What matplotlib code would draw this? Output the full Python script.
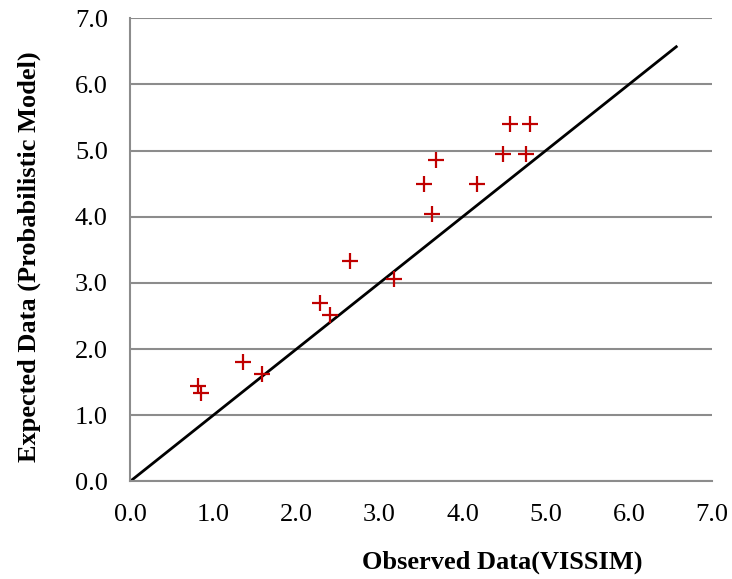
import numpy as np
import matplotlib.pyplot as plt

# observed (VISSIM) vs expected (probabilistic model)
observed = [0.82, 0.85, 1.36, 1.59, 2.29, 2.40, 2.65, 3.17, 3.54, 3.63,
            3.68, 4.17, 4.49, 4.57, 4.76, 4.81]
expected = [1.45, 1.34, 1.80, 1.62, 2.69, 2.51, 3.33, 3.06, 4.49, 4.05,
            4.86, 4.49, 4.95, 5.40, 4.95, 5.40]
line_end = 6.57
ticks = [0, 1, 2, 3, 4, 5, 6, 7]

plt.rcParams['font.family'] = ['Liberation Serif', 'DejaVu Serif']

fig = plt.figure(figsize=(7.32, 5.79), dpi=100)
ax = fig.add_axes([0.1776, 0.1684, 0.7951, 0.8])

grid_col = '#8c8c8c'
ax.set_xlim(0, 7)
ax.set_ylim(0, 7)
ax.set_xticks(ticks)
ax.set_yticks(ticks)
ax.set_xticklabels([f'{t:.1f}' for t in ticks], fontsize=19)
ax.set_yticklabels([f'{t:.1f}' for t in ticks], fontsize=19)
ax.tick_params(axis='x', length=0, pad=16)
ax.tick_params(axis='y', length=0, pad=16)
ax.yaxis.grid(True, color=grid_col, linewidth=1.5)
ax.set_axisbelow(True)
for side in ['top', 'right']:
    ax.spines[side].set_visible(False)
ax.spines['left'].set_color(grid_col)
ax.spines['left'].set_linewidth(1.5)
ax.spines['bottom'].set_color(grid_col)
ax.spines['bottom'].set_linewidth(1.5)

ax.plot([0, line_end], [0, line_end], color='black', linewidth=2)
ax.plot(observed, expected, linestyle='none', marker='+', color='#c00000',
        markersize=11, markeredgewidth=1.6)

fig.text(0.686, 0.028, 'Observed Data(VISSIM)', fontsize=19, fontweight='bold',
         ha='center', va='center')
fig.text(0.04, 0.557, 'Expected Data (Probabilistic Model)', fontsize=19,
         fontweight='bold', rotation=90, ha='center', va='center')

fig.savefig('out.png', dpi=100)
